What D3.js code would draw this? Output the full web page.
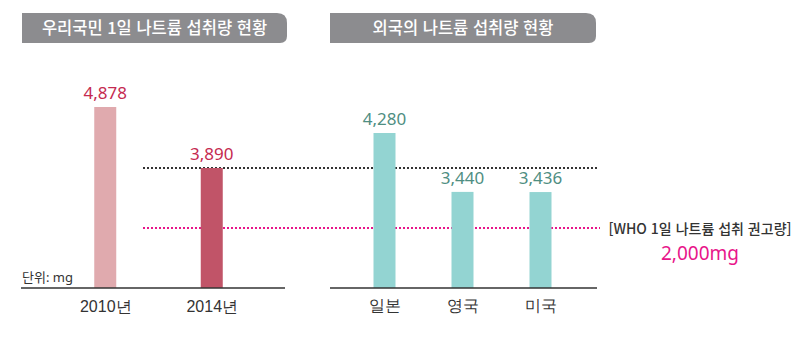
<!DOCTYPE html>
<html lang="ko">
<head>
<meta charset="utf-8">
<script src="https://cdn.jsdelivr.net/npm/d3@7"></script>
<style>
  html, body { margin: 0; padding: 0; background: #fff; }
  svg { display: block; font-family: "Noto Sans", "Noto Sans CJK KR", sans-serif; }
</style>
</head>
<body>
<svg id="chart" width="800" height="352"></svg>
<script>
// --- data ---
const domesticTitle = "우리국민 1일 나트륨 섭취량 현황";
const foreignTitle = "외국의 나트륨 섭취량 현황";
const domesticCats = ["2010년", "2014년"];
const domesticValues = [4878, 3890];
const domesticColors = ["#e0aaae", "#c15468"];
const foreignCats = ["일본", "영국", "미국"];
const foreignValues = [4280, 3440, 3436];
const whoValue = 2000;
const whoLabel = "[WHO 1일 나트륨 섭취 권고량]";
const whoValueLabel = "2,000mg";
const unitLabel = "단위: mg";

const fmt = d3.format(",");
const svg = d3.select("#chart");

// infographic axis is not linear, so use a piecewise scale through the drawn heights
const y = d3.scaleLinear()
    .domain([0, 2000, 3438, 3890, 4280, 4878])
    .range([288, 228, 192, 168, 133, 107]);

const xLeft = d3.scalePoint().domain(domesticCats).range([52, 265]).padding(0.5);
const xRight = d3.scalePoint().domain(foreignCats).range([345.5, 579.5]).padding(0.5);
const barW = 22;

// title tabs (square left side, rounded right side)
function tab(x0, x1, y0, y1, label) {
    const r1 = 10, r2 = 7;
    const p = d3.path();
    p.moveTo(x0, y0);
    p.lineTo(x1 - r1, y0);
    p.quadraticCurveTo(x1, y0, x1, y0 + r1);
    p.lineTo(x1, y1 - r2);
    p.quadraticCurveTo(x1, y1, x1 - r2, y1);
    p.lineTo(x0, y1);
    p.closePath();
    svg.append("path").attr("d", p.toString()).attr("fill", "#8c8c8f");
    svg.append("text")
        .attr("x", (x0 + x1) / 2)
        .attr("y", (y0 + y1) / 2)
        .attr("dy", "0.36em")
        .attr("text-anchor", "middle")
        .attr("fill", "#fff")
        .style("font-family", "'Noto Sans CJK KR', sans-serif")
        .style("font-size", "16.5px")
        .style("font-weight", 500)
        .text(label);
}
tab(22, 287, 13, 43, domesticTitle);
tab(330, 596, 13, 43, foreignTitle);

// reference lines
svg.append("line")
    .attr("x1", 143).attr("x2", 598)
    .attr("y1", y(domesticValues[1])).attr("y2", y(domesticValues[1]))
    .attr("stroke", "#333").attr("stroke-width", 2).attr("stroke-dasharray", "2,2");
svg.append("line")
    .attr("x1", 143).attr("x2", 600)
    .attr("y1", y(whoValue)).attr("y2", y(whoValue))
    .attr("stroke", "#e8158a").attr("stroke-width", 2).attr("stroke-dasharray", "2,2");

// left panel bars
svg.selectAll(".bar-dom")
    .data(domesticValues)
    .enter().append("rect")
    .attr("class", "bar-dom")
    .attr("x", (d, i) => xLeft(domesticCats[i]) - barW / 2)
    .attr("y", d => y(d))
    .attr("width", barW)
    .attr("height", d => y(0) - y(d))
    .attr("fill", (d, i) => domesticColors[i]);

svg.selectAll(".lbl-dom")
    .data(domesticValues)
    .enter().append("text")
    .attr("class", "lbl-dom")
    .attr("x", (d, i) => xLeft(domesticCats[i]))
    .attr("y", d => y(d) - 8)
    .attr("text-anchor", "middle")
    .attr("fill", "#c52a50")
    .style("font-size", "17px")
    .text(d => fmt(d));

// right panel bars
svg.selectAll(".bar-for")
    .data(foreignValues)
    .enter().append("rect")
    .attr("class", "bar-for")
    .attr("x", (d, i) => xRight(foreignCats[i]) - barW / 2)
    .attr("y", d => y(d))
    .attr("width", barW)
    .attr("height", d => y(0) - y(d))
    .attr("fill", "#93d4d2");

svg.selectAll(".lbl-for")
    .data(foreignValues)
    .enter().append("text")
    .attr("class", "lbl-for")
    .attr("x", (d, i) => xRight(foreignCats[i]))
    .attr("y", d => y(d) - 8)
    .attr("text-anchor", "middle")
    .attr("fill", "#4f8e82")
    .style("font-size", "17px")
    .text(d => fmt(d));

// baselines + category labels via axes
const axLeft = svg.append("g")
    .attr("transform", `translate(0,${y(0)})`)
    .call(d3.axisBottom(xLeft).tickSize(0).tickPadding(13));
axLeft.select(".domain").attr("d", "M21,0H285").attr("stroke", "#333").attr("stroke-width", 1.5);
axLeft.selectAll("text").style("font-size", "16px").attr("fill", "#333").style("font-family", "inherit");

const axRight = svg.append("g")
    .attr("transform", `translate(0,${y(0)})`)
    .call(d3.axisBottom(xRight).tickSize(0).tickPadding(12));
axRight.select(".domain").attr("d", "M330,0H597").attr("stroke", "#333").attr("stroke-width", 1.5);
axRight.selectAll("text").style("font-size", "16px").attr("fill", "#333").style("font-family", "inherit");

// unit label
svg.append("text")
    .attr("x", 22).attr("y", 282)
    .attr("fill", "#333")
    .style("font-size", "13px")
    .text(unitLabel);

// WHO annotation
svg.append("text")
    .attr("x", 700).attr("y", y(whoValue) + 6)
    .attr("text-anchor", "middle")
    .attr("fill", "#333")
    .style("font-family", "'Noto Sans CJK KR', sans-serif")
    .style("font-size", "14px")
    .style("font-weight", 500)
    .text(whoLabel);
svg.append("text")
    .attr("x", 700).attr("y", 260)
    .attr("text-anchor", "middle")
    .attr("fill", "#e8158a")
    .style("font-size", "19px")
    .text(whoValueLabel);
</script>
</body>
</html>
